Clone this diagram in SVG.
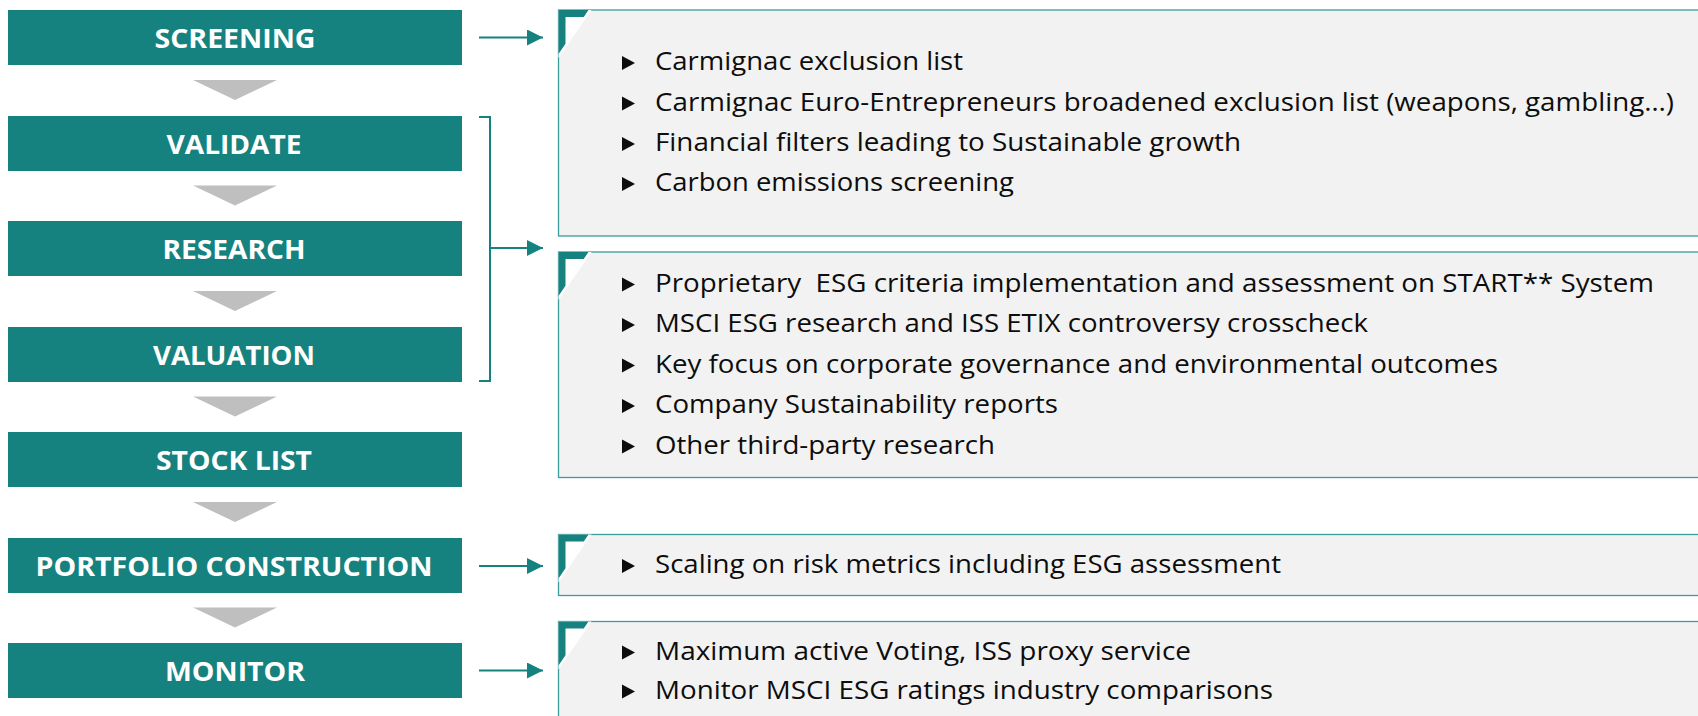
<svg xmlns="http://www.w3.org/2000/svg" width="1698" height="716" viewBox="0 0 1698 716">
<style>
.box{fill:#168280}
.lbl{font-family:"Open Sans","Liberation Sans",sans-serif;font-weight:bold;font-size:27px;fill:#ffffff;text-anchor:middle}
.chev{fill:#bfbfbf}
.panel{fill:#f2f2f2;stroke:#3a9d9b;stroke-width:1.3}
.txt{font-family:"Open Sans","Liberation Sans",sans-serif;font-size:26px;fill:#0d0d0d}
.bul{fill:#0d0d0d}
.conn{fill:none;stroke:#168280;stroke-width:2}
.corner{fill:#168280;fill-rule:evenodd}
</style>
<defs>
<marker id="ah" viewBox="0 0 16 16" refX="16" refY="8" markerWidth="16" markerHeight="16" markerUnits="userSpaceOnUse" orient="auto">
<path d="M0,0 L16,8 L0,16 Z" fill="#168280"/>
</marker>
<g id="fold">
<polygon points="0,0 33,0 0,48" fill="#ffffff"/>
<path class="corner" d="M0,0 L30,0 L0,44 Z M7,7 L25.2,7 L7,33.7 Z"/>
</g>
</defs>
<rect width="1698" height="716" fill="#ffffff"/>

<g id="chevrons">
<polygon class="chev" points="193,80 277,80 235,100"/>
<polygon class="chev" points="193,185.5 277,185.5 235,205.5"/>
<polygon class="chev" points="193,291 277,291 235,311"/>
<polygon class="chev" points="193,396.5 277,396.5 235,416.5"/>
<polygon class="chev" points="193,502 277,502 235,522"/>
<polygon class="chev" points="193,607.5 277,607.5 235,627.5"/>
</g>

<g id="screening"><rect class="box" x="8" y="10" width="454" height="55"/><text class="lbl" x="235" y="47.5" textLength="161" lengthAdjust="spacingAndGlyphs">SCREENING</text></g>
<g id="validate"><rect class="box" x="8" y="116" width="454" height="55"/><text class="lbl" x="234" y="153.5" textLength="135" lengthAdjust="spacingAndGlyphs">VALIDATE</text></g>
<g id="research"><rect class="box" x="8" y="221" width="454" height="55"/><text class="lbl" x="234" y="258.5" textLength="143" lengthAdjust="spacingAndGlyphs">RESEARCH</text></g>
<g id="valuation"><rect class="box" x="8" y="327" width="454" height="55"/><text class="lbl" x="234" y="364.5" textLength="162" lengthAdjust="spacingAndGlyphs">VALUATION</text></g>
<g id="stock-list"><rect class="box" x="8" y="432" width="454" height="55"/><text class="lbl" x="234" y="469.5" textLength="156" lengthAdjust="spacingAndGlyphs">STOCK LIST</text></g>
<g id="portfolio-construction"><rect class="box" x="8" y="538" width="454" height="55"/><text class="lbl" x="234" y="575.5" textLength="397" lengthAdjust="spacingAndGlyphs">PORTFOLIO CONSTRUCTION</text></g>
<g id="monitor"><rect class="box" x="8" y="643" width="454" height="55"/><text class="lbl" x="235" y="680.5" textLength="140" lengthAdjust="spacingAndGlyphs">MONITOR</text></g>

<g id="connectors">
<line class="conn" x1="479" y1="37.5" x2="543" y2="37.5" marker-end="url(#ah)"/>
<path class="conn" d="M479,117 H490 V381 H479"/>
<line class="conn" x1="490" y1="248" x2="543" y2="248" marker-end="url(#ah)"/>
<line class="conn" x1="479" y1="566" x2="543" y2="566" marker-end="url(#ah)"/>
<line class="conn" x1="479" y1="670.5" x2="543" y2="670.5" marker-end="url(#ah)"/>
</g>

<g id="panel-screening">
<rect class="panel" x="558.5" y="10" width="1160" height="226"/>
<use href="#fold" x="558.5" y="10"/>
<polygon class="bul" points="622,56 635,63 622,70"/>
<text class="txt" x="655" y="70" textLength="308" lengthAdjust="spacingAndGlyphs">Carmignac exclusion list</text>
<polygon class="bul" points="622,96.5 635,103.5 622,110.5"/>
<text class="txt" x="655" y="110.5" textLength="1019" lengthAdjust="spacingAndGlyphs">Carmignac Euro-Entrepreneurs broadened exclusion list (weapons, gambling…)</text>
<polygon class="bul" points="622,137 635,144 622,151"/>
<text class="txt" x="655" y="151" textLength="586" lengthAdjust="spacingAndGlyphs">Financial filters leading to Sustainable growth</text>
<polygon class="bul" points="622,177 635,184 622,191"/>
<text class="txt" x="655" y="191" textLength="359" lengthAdjust="spacingAndGlyphs">Carbon emissions screening</text>
</g>

<g id="panel-research">
<rect class="panel" x="558.5" y="252" width="1160" height="225.5"/>
<use href="#fold" x="558.5" y="252"/>
<polygon class="bul" points="622,277.5 635,284.5 622,291.5"/>
<text class="txt" x="655" y="291.5" textLength="999" lengthAdjust="spacingAndGlyphs" xml:space="preserve">Proprietary  ESG criteria implementation and assessment on START** System</text>
<polygon class="bul" points="622,318 635,325 622,332"/>
<text class="txt" x="655" y="332" textLength="713" lengthAdjust="spacingAndGlyphs">MSCI ESG research and ISS ETIX controversy crosscheck</text>
<polygon class="bul" points="622,358.5 635,365.5 622,372.5"/>
<text class="txt" x="655" y="372.5" textLength="843" lengthAdjust="spacingAndGlyphs">Key focus on corporate governance and environmental outcomes</text>
<polygon class="bul" points="622,399 635,406 622,413"/>
<text class="txt" x="655" y="413" textLength="403" lengthAdjust="spacingAndGlyphs">Company Sustainability reports</text>
<polygon class="bul" points="622,439.5 635,446.5 622,453.5"/>
<text class="txt" x="655" y="453.5" textLength="340" lengthAdjust="spacingAndGlyphs">Other third-party research</text>
</g>

<g id="panel-portfolio">
<rect class="panel" x="558.5" y="534.5" width="1160" height="61"/>
<use href="#fold" x="558.5" y="534.5"/>
<polygon class="bul" points="622,559 635,566 622,573"/>
<text class="txt" x="655" y="573" textLength="626" lengthAdjust="spacingAndGlyphs">Scaling on risk metrics including ESG assessment</text>
</g>

<g id="panel-monitor">
<rect class="panel" x="558.5" y="621.5" width="1160" height="120"/>
<use href="#fold" x="558.5" y="621.5"/>
<polygon class="bul" points="622,645.5 635,652.5 622,659.5"/>
<text class="txt" x="655" y="659.5" textLength="536" lengthAdjust="spacingAndGlyphs">Maximum active Voting, ISS proxy service</text>
<polygon class="bul" points="622,684.5 635,691.5 622,698.5"/>
<text class="txt" x="655" y="698.5" textLength="618" lengthAdjust="spacingAndGlyphs">Monitor MSCI ESG ratings industry comparisons</text>
</g>
</svg>
